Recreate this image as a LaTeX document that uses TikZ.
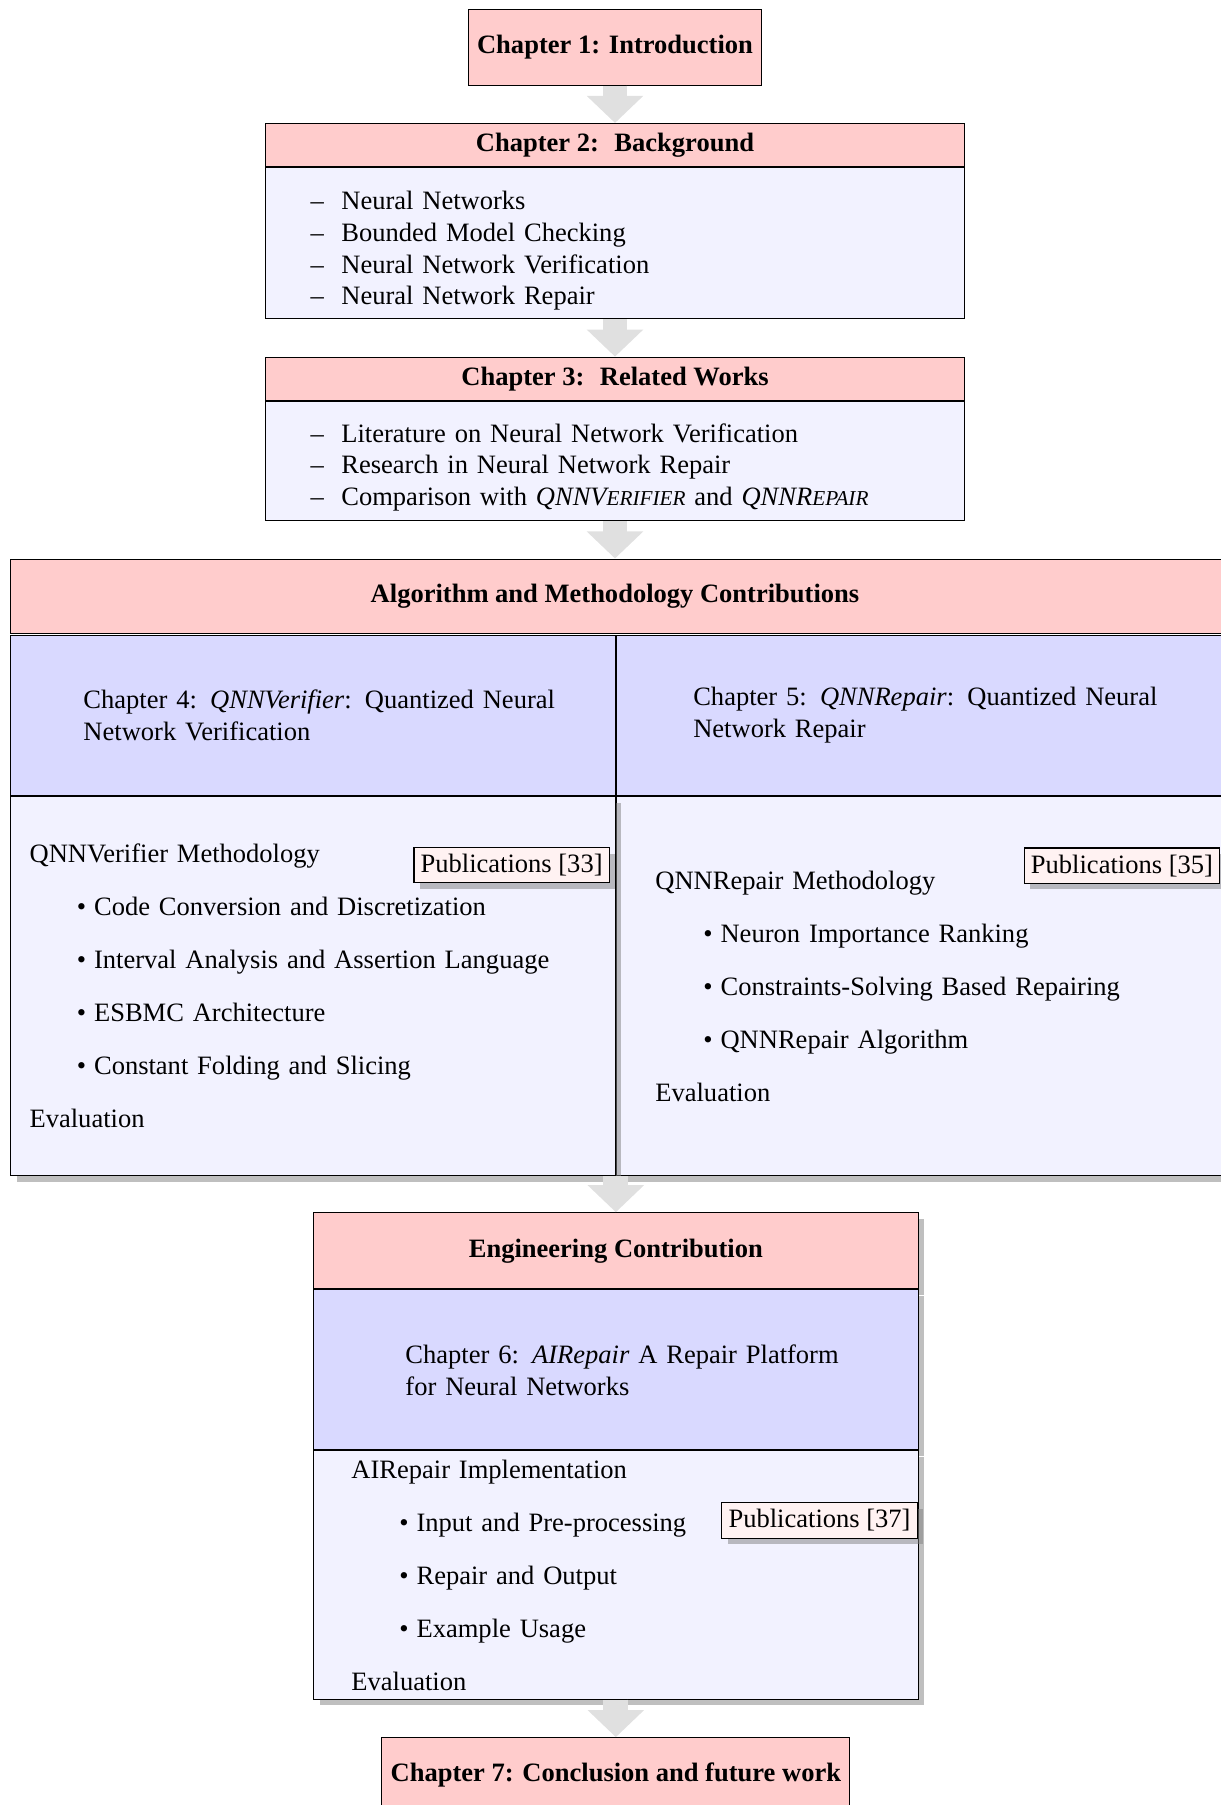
\documentclass[tikz,border=0pt]{standalone}
\usepackage{fontspec}
\setmainfont{Liberation Serif}
\usetikzlibrary{positioning,shadows,arrows.meta}
\newcommand{\HEAD}[0]{red!20}
\newcommand{\SUB}[0]{blue!15}
\newcommand{\BODY}[0]{blue!5}
\newcommand{\PUB}[0]{red!5}
\newcommand{\ARR}[0]{black!12}

\begin{document}
\begin{tikzpicture}[x=0.377pt, y=-0.377pt,
  cbox/.style={draw, rectangle, inner sep=0pt},
  chead/.style={cbox, fill=\HEAD, font=\bfseries},
  csub/.style={cbox, fill=\SUB, align=left},
  cbody/.style={cbox, fill=\BODY, align=left},
  cpub/.style={draw, fill=\PUB, inner sep=2.5pt, drop shadow},
  bigarrow/.style={draw=\ARR, line width=9.4pt, -{Triangle[width=20.7pt, length=10.2pt]}},
]

  \newcommand\GAP{14.1pt}
  \newcommand\DASH{\makebox[11.6pt][l]{--}}
  \newcommand\ITEM[2]{\hspace*{#1}\makebox[6.5pt][l]{\textbullet}#2}

  \useasboundingbox (0, 0) rectangle (1220, 1805);

  %% chapters 1 - 3
  \node[chead, minimum width=110.8pt, minimum height=28.3pt] (chone) at (615, 47.5) {Chapter 1: Introduction};

  \node[chead, minimum width=263.5pt, minimum height=16.2pt, below=\GAP of chone] (chtwohead) {Chapter 2:~ Background};
  \node[cbody, minimum width=263.5pt, minimum height=57pt, text width=229.5pt, inner xsep=17pt, below=0pt of chtwohead] (chtwobody)
    {\rule{0pt}{12.7pt}\DASH Neural Networks\\ \DASH Bounded Model Checking\\ \DASH Neural Network Verification\\ \DASH Neural Network Repair};

  \node[chead, minimum width=263.5pt, minimum height=16.2pt, below=\GAP of chtwobody] (chthreehead) {Chapter 3:~ Related Works};
  \node[cbody, minimum width=263.5pt, minimum height=45pt, text width=229.5pt, inner xsep=17pt, below=0pt of chthreehead] (chthreebody)
    {\rule{0pt}{11.9pt}\DASH Literature on Neural Network Verification\\ \DASH Research in Neural Network Repair\\
     \DASH Comparison with \textit{QNNV{\footnotesize ERIFIER}} and \textit{QNNR{\footnotesize EPAIR}}};

  %% algorithm and methodology
  \node[chead, minimum width=461pt, minimum height=27.9pt, below=\GAP of chthreebody, xshift=2.5pt] (alghead) {\hspace*{-5pt}Algorithm and Methodology Contributions};

  \node[csub, anchor=north west, minimum width=228pt, minimum height=60.3pt, text width=228pt, inner xsep=0pt] (chfoursub) at (10, 635)
    {\hspace*{27.5pt}Chapter 4: \textit{QNNVerifier}: Quantized Neural\\ \hspace*{27.5pt}Network Verification};
  \node[csub, anchor=north west, minimum width=230pt, minimum height=60.3pt, text width=230pt, inner xsep=0pt] (chfivesub) at (chfoursub.north east)
    {\hspace*{29pt}Chapter 5: \textit{QNNRepair}: Quantized Neural\\ \hspace*{29pt}Network Repair};

  \node[cbody, drop shadow, anchor=north west, minimum width=230pt, minimum height=142.9pt, text width=230pt, inner xsep=0pt] (chfivebody) at (chfivesub.south west)
    {\hspace*{14.7pt}QNNRepair Methodology\\[8pt] \ITEM{32.8pt}{Neuron Importance Ranking}\\[8pt] \ITEM{32.8pt}{Constraints-Solving Based Repairing}\\[8pt]
     \ITEM{32.8pt}{QNNRepair Algorithm}\\[8pt] \hspace*{14.7pt}Evaluation};
  \node[cbody, drop shadow, anchor=north west, minimum width=228pt, minimum height=142.9pt, text width=228pt, inner xsep=0pt] (chfourbody) at (chfoursub.south west)
    {\hspace*{7.2pt}QNNVerifier Methodology\\[8pt] \ITEM{25pt}{Code Conversion and Discretization}\\[8pt] \ITEM{25pt}{Interval Analysis and Assertion Language}\\[8pt]
     \ITEM{25pt}{ESBMC Architecture}\\[8pt] \ITEM{25pt}{Constant Folding and Slicing}\\[8pt] \hspace*{7.2pt}Evaluation};

  \node[cpub, below left=19.2pt and 2.3pt of chfourbody.north east] (pubfour) {Publications [33]};
  \node[cpub, below left=19.4pt and 2.6pt of chfivebody.north east] (pubfive) {Publications [35]};

  %% engineering
  \node[chead, drop shadow, minimum width=228pt, minimum height=28.7pt, below=13.6pt of chfourbody.south east] (enghead) {Engineering Contribution};
  \node[csub, drop shadow, minimum width=228pt, minimum height=60.3pt, text width=228pt, inner xsep=0pt, below=0pt of enghead] (chsixsub)
    {\hspace*{34.7pt}Chapter 6: \textit{AIRepair} A Repair Platform\\ \hspace*{34.7pt}for Neural Networks};
  \node[cbody, drop shadow, minimum width=228pt, minimum height=93.6pt, text width=228pt, inner xsep=0pt, below=0pt of chsixsub] (chsixbody)
    {\hspace*{14.3pt}AIRepair Implementation\\[8pt] \ITEM{32.4pt}{Input and Pre-processing}\\[8pt] \ITEM{32.4pt}{Repair and Output}\\[8pt]
     \ITEM{32.4pt}{Example Usage}\\[8pt] \hspace*{14.3pt}Evaluation};
  \node[cpub, below left=19.6pt and 0.4pt of chsixbody.north east] (pubsix) {Publications [37]};

  \node[chead, minimum width=176.4pt, minimum height=28.3pt, below=\GAP of chsixbody] (chseven) {Chapter 7: Conclusion and future work};

  %% flow arrows
  \draw[bigarrow] (chone) -- (chtwohead);
  \draw[bigarrow] (chtwobody) -- (chthreehead);
  \draw[bigarrow] (chthreebody) -- (alghead.north -| chtwobody);
  \draw[bigarrow] (chfourbody.south east) -- (enghead.north);
  \draw[bigarrow] (chsixbody) -- (chseven);

\end{tikzpicture}
\end{document}
